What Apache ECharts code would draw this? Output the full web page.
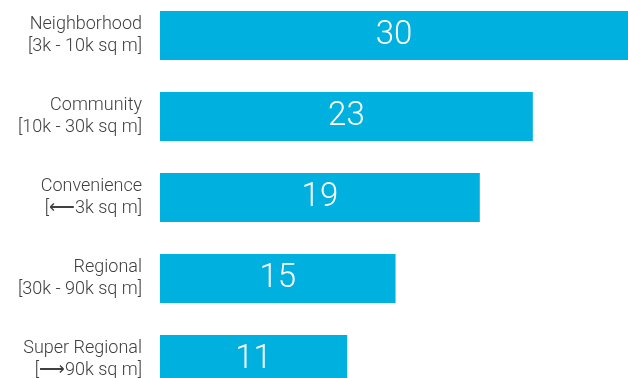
<!DOCTYPE html>
<html>
<head>
<meta charset="utf-8">
<script src="https://cdn.jsdelivr.net/npm/echarts@6/dist/echarts.min.js"></script>
<style>html,body{margin:0;padding:0;background:#fff;overflow:hidden;}#c{width:628px;height:405px;margin-top:-5px;}</style>
</head>
<body>
<div id="c"></div>
<script>
const categories = ['Neighborhood', 'Community', 'Convenience', 'Regional', 'Super Regional'];
const ranges = ['[3k - 10k sq m]', '[10k - 30k sq m]', '[⟵3k sq m]', '[30k - 90k sq m]', '[⟶90k sq m]'];
const barLengths = [30, 23.9, 20.5, 15.1, 12.0];
const valueLabels = ['30', '23', '19', '15', '11'];

const chart = echarts.init(document.getElementById('c'));
chart.setOption({
  animation: false,
  grid: { left: 160, right: 0, top: 0, bottom: 0, containLabel: false },
  xAxis: { type: 'value', min: 0, max: 30, show: false },
  yAxis: {
    type: 'category', inverse: true,
    data: categories.map((c, i) => c + '\n' + ranges[i]),
    axisLine: { show: false }, axisTick: { show: false }, splitLine: { show: false },
    axisLabel: {
      margin: 18, color: '#404040', fontFamily: 'Roboto, "DejaVu Sans"', fontWeight: 300, fontSize: 18,
      lineHeight: 22, align: 'right', padding: [0, 0, 10, 0]
    }
  },
  series: [{
    type: 'bar',
    data: barLengths,
    barCategoryGap: '39.5%',
    itemStyle: { color: '#00b0df' },
    label: {
      show: true, position: 'inside', color: '#ffffff',
      fontFamily: 'Roboto', fontWeight: 300, fontSize: 33,
      formatter: p => valueLabels[p.dataIndex]
    }
  }]
});
</script>
</body>
</html>
